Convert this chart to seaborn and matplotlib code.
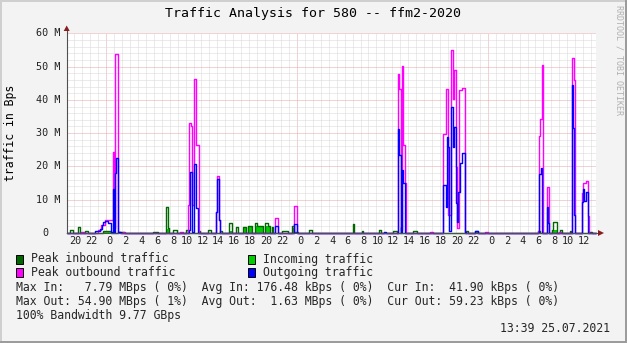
import matplotlib
matplotlib.use("Agg")
import matplotlib.pyplot as plt
import matplotlib.transforms as mtransforms
from matplotlib.patches import Polygon, Rectangle
from matplotlib.lines import Line2D
import pandas as pd
import seaborn as sns

# ---------------- data (hours since 23.07 00:00, values in MBps) ----------------
T_START, T_END = -4.95, 61.65

# step breakpoints (time, value) - value holds until the next time
peak_in = [(-4.95, 0), (-4.49, 0.9), (-4.15, 0), (-3.48, 1.9), (-3.23, 0), (-2.60, 0.6), (-2.22, 0),
           (-0.34, 0.6), (0.66, 0), (1.55, 0.4), (2.30, 0), (5.94, 0.3), (6.57, 0),
           (7.54, 7.8), (7.79, 1.5), (7.95, 0), (8.46, 0.9), (8.96, 0), (10.09, 1.0), (10.34, 0),
           (11.64, 0.5), (11.85, 0), (12.86, 0.9), (13.23, 0), (14.36, 0.5), (14.60, 0),
           (15.49, 3.0), (15.83, 0), (16.37, 1.7), (16.62, 0), (17.25, 1.9), (17.63, 0),
           (17.88, 2.1), (18.38, 0), (18.76, 3.1), (19.01, 2.1), (19.77, 0), (20.02, 2.9),
           (20.40, 2.1), (20.65, 0), (20.90, 1.9), (21.03, 0), (22.16, 0.5), (22.91, 0),
           (23.41, 2.0), (23.66, 0.4), (24.10, 0), (25.55, 0.9), (25.93, 0), (31.08, 2.6),
           (31.21, 0), (32.15, 0.5), (32.28, 0), (34.34, 1.0), (34.59, 0), (36.10, 0.6),
           (36.60, 0), (37.03, 1.8), (37.15, 0), (38.62, 0.5), (39.12, 0), (45.30, 0.5),
           (45.55, 0), (46.41, 0.6), (46.79, 0), (54.30, 0.5), (54.55, 0), (56.04, 0.9),
           (56.24, 3.2), (56.67, 0), (57.09, 0.9), (57.30, 0), (58.30, 0.5), (58.50, 0),
           (60.74, 0.3), (61.10, 0), (61.65, 0)]

incoming = [(-4.95, 0), (-0.34, 0.5), (0.66, 0), (1.55, 0.3), (2.30, 0), (7.54, 1.3), (7.95, 0),
            (15.49, 0.5), (15.83, 0), (17.25, 1.9), (17.63, 0), (17.88, 1.9), (18.38, 0),
            (18.76, 2.0), (19.77, 0), (20.02, 2.0), (20.65, 0), (23.41, 1.5), (23.66, 0.3),
            (24.10, 0), (37.03, 0.5), (37.15, 0), (46.41, 0.5), (46.79, 0), (56.24, 1.0),
            (56.67, 0), (61.65, 0)]

peak_out = [(-4.95, 0), (-3.10, 0.3), (-2.73, 0), (-0.97, 1.0), (-0.60, 2.4), (-0.17, 3.9),
            (0.83, 24.2), (1.04, 1.5), (1.17, 53.9), (1.46, 0.3), (1.80, 0), (2.17, 0.3),
            (2.43, 0), (9.34, 0.3), (9.71, 0), (10.25, 8.4), (10.38, 32.9), (10.62, 32.0),
            (10.80, 8.4), (11.10, 46.4), (11.35, 26.4), (11.64, 0), (13.80, 6.4), (13.92, 17.1),
            (14.22, 4.0), (14.36, 0), (21.28, 4.4), (21.66, 0), (23.66, 8.1), (24.00, 0),
            (36.69, 47.9), (36.86, 43.4), (37.03, 1.0), (37.18, 50.1), (37.38, 26.4),
            (37.55, 14.9), (37.72, 0), (40.75, 0.3), (41.13, 0), (42.35, 29.6), (42.78, 43.4),
            (42.95, 39.4), (43.05, 5.5), (43.39, 54.9), (43.60, 40.4), (43.78, 48.9),
            (44.00, 19.9), (44.15, 1.5), (44.40, 42.9), (44.82, 43.7), (45.15, 0),
            (47.67, 0.3), (48.04, 0), (54.36, 0.5), (54.49, 29.1), (54.60, 34.4), (54.79, 50.4),
            (54.91, 0), (55.42, 13.7), (55.74, 0), (56.90, 0.3), (57.20, 0), (58.56, 52.7),
            (58.80, 45.9), (58.92, 5.4), (59.01, 0), (59.81, 12.1), (59.98, 14.9),
            (60.34, 15.6), (60.55, 5.0), (60.68, 0), (61.65, 0)]

outgoing = [(-4.95, 0), (-1.34, 0.5), (-0.72, 1.2), (-0.47, 2.4), (-0.34, 3.4), (-0.09, 3.6),
            (0.29, 2.9), (0.66, 0.4), (0.83, 13.1), (1.04, 0.4), (1.17, 18.0), (1.30, 22.4),
            (1.50, 0.3), (1.90, 0), (10.45, 1.0), (10.55, 18.2), (10.85, 0.4), (11.10, 20.7),
            (11.35, 7.5), (11.60, 0), (13.86, 6.2), (13.99, 16.2), (14.20, 3.8), (14.36, 0),
            (21.28, 2.0), (21.66, 0), (23.66, 2.7), (24.00, 0), (34.97, 0.3), (35.22, 0),
            (36.69, 31.3), (36.86, 23.3), (37.03, 0.3), (37.18, 18.9), (37.40, 14.9),
            (37.65, 0), (42.35, 14.4), (42.70, 7.9), (42.82, 28.9), (42.95, 25.9), (43.10, 0.5),
            (43.39, 37.9), (43.58, 25.9), (43.81, 31.9), (43.95, 28.4), (44.02, 8.9),
            (44.18, 3.4), (44.31, 12.4), (44.52, 21.1), (44.74, 24.0), (45.15, 0.3), (45.30, 0),
            (46.41, 0.5), (46.79, 0), (54.49, 17.7), (54.70, 19.4), (54.88, 0), (55.45, 7.7),
            (55.62, 3.0), (55.74, 0), (58.56, 44.4), (58.68, 31.5), (58.82, 5.4), (58.97, 0),
            (59.81, 9.4), (59.93, 13.1), (60.13, 9.5), (60.34, 12.2), (60.63, 0), (61.65, 0)]

y_ticks = [0, 10, 20, 30, 40, 50, 60]
y_tick_labels = ["0", "10 M", "20 M", "30 M", "40 M", "50 M", "60 M"]
x_ticks = list(range(-4, 62, 2))

title = "Traffic Analysis for 580 -- ffm2-2020"
legend_items = [("Peak inbound traffic", "#006600"), ("Incoming traffic", "#00cc00"),
                ("Peak outbound traffic", "#ff00ff"), ("Outgoing traffic", "#0000ff")]
stat_lines = ["Max In:   7.79 MBps ( 0%)  Avg In: 176.48 kBps ( 0%)  Cur In:  41.90 kBps ( 0%)",
              "Max Out: 54.90 MBps ( 1%)  Avg Out:  1.63 MBps ( 0%)  Cur Out: 59.23 kBps ( 0%)",
              "100% Bandwidth 9.77 GBps"]
stamp = "13:39 25.07.2021"

# ---------------- figure ----------------
sns.set_theme(style="white")
plt.rcParams["font.family"] = ["DejaVu Sans Mono"]

W, H = 627, 343
fig = plt.figure(figsize=(W / 100, H / 100), dpi=100, facecolor="#f3f3f3")
PX = mtransforms.Affine2D().scale(1 / W, -1 / H).translate(0, 1) + fig.transFigure

X0, X1, Y0, Y1 = 66.7, 596.3, 33.3, 233.0
ax = fig.add_axes([X0 / W, 1 - Y1 / H, (X1 - X0) / W, (Y1 - Y0) / H])
ax.set_facecolor("white")
for s in ax.spines.values():
    s.set_visible(False)

# grid
for h in range(-4, 62):
    major = h % 24 == 0
    ax.axvline(h, color="#e4a8a8" if major else "#d8d8d8", lw=0.72, ls=(0, (1, 1)), zorder=0)
for m in range(2, 61, 2):
    major = m % 10 == 0
    ax.axhline(m, color="#e4a8a8" if major else "#d8d8d8", lw=0.72, ls=(0, (1, 1)), zorder=0)

def frame(pairs):
    return pd.DataFrame(pairs, columns=["t", "v"])

d_in = frame(incoming)
ax.fill_between(d_in["t"], d_in["v"], step="post", color="#00cc00", lw=0, zorder=2)
for pairs, col, z in [(peak_in, "#006600", 3), (peak_out, "#ff00ff", 4), (outgoing, "#0000ff", 5)]:
    d = frame(pairs)
    sns.lineplot(data=d, x="t", y="v", ax=ax, drawstyle="steps-post", color=col, lw=1.0,
                 estimator=None, sort=False, zorder=z, clip_on=False)

ax.set_xlim(T_START, T_END)
ax.set_ylim(0, 60)
ax.set_xticks([]); ax.set_yticks([])
ax.set_xlabel(""); ax.set_ylabel("")

# axes lines and arrows
fig.add_artist(Line2D([X0, X0], [Y1, 28], transform=PX, color="#505050", lw=0.8, zorder=1))
fig.add_artist(Line2D([X0, 599], [Y1, Y1], transform=PX, color="#505050", lw=0.8, zorder=1))
fig.add_artist(Polygon([[63.7, 31], [69.7, 31], [66.7, 25.5]], closed=True, transform=PX,
                       facecolor="#8b1c1c", edgecolor="none"))
fig.add_artist(Polygon([[598, 230], [598, 236], [604, 233]], closed=True, transform=PX,
                       facecolor="#8b1c1c", edgecolor="none"))

# tick labels
TFS = 7.3
for v, lab in zip(y_ticks, y_tick_labels):
    py = Y1 - v * (Y1 - Y0) / 60
    xr = 60.3 if v else 48.2
    fig.text(xr / W, 1 - py / H, lab, ha="right", va="center", fontsize=TFS, color="#222222")
xtrans = mtransforms.offset_copy(mtransforms.blended_transform_factory(ax.transData, PX),
                                 fig=fig, x=1, y=0, units="dots")
for h in x_ticks:
    fig.text(h, 241, "%2d" % (h % 24), transform=xtrans, ha="center", va="center",
             fontsize=TFS, color="#222222")

# title, labels, watermark
fig.text(313 / W, 1 - 13 / H, title, ha="center", va="center", fontsize=9.5, color="black")
fig.text(11 / W, 1 - 133 / H, "traffic in Bps", rotation=90, ha="center", va="center",
         fontsize=8.3, color="black")
fig.text(618.5 / W, 1 - 60 / H, "RRDTOOL / TOBI OETIKER", rotation=270, ha="center",
         va="center", fontsize=6, color="#b0b0b0")

# legend
LFS = 8.3
pos = [(16, 259), (248, 259), (16, 272.5), (248, 272.5)]
for (lab, col), (lx, ly) in zip(legend_items, pos):
    fig.add_artist(Rectangle((lx, ly - 4.5), 7, 9, transform=PX, facecolor=col,
                             edgecolor="black", lw=0.7))
    fig.text((lx + 15) / W, 1 - ly / H, lab, ha="left", va="center", fontsize=LFS)
for i, line in enumerate(stat_lines):
    fig.text(16 / W, 1 - (288 + 13.7 * i) / H, line, ha="left", va="center", fontsize=LFS)
fig.text(610 / W, 1 - 329 / H, stamp, ha="right", va="center", fontsize=LFS)

# 3D frame
fig.add_artist(Rectangle((0, 0), W, 2, transform=PX, facecolor="#cfcfcf", edgecolor="none"))
fig.add_artist(Rectangle((0, 0), 2, H, transform=PX, facecolor="#cfcfcf", edgecolor="none"))
fig.add_artist(Rectangle((0, H - 2), W, 2, transform=PX, facecolor="#9c9c9c", edgecolor="none"))
fig.add_artist(Rectangle((W - 2, 0), 2, H, transform=PX, facecolor="#9c9c9c", edgecolor="none"))

fig.savefig("out.png", dpi=100, facecolor=fig.get_facecolor())
